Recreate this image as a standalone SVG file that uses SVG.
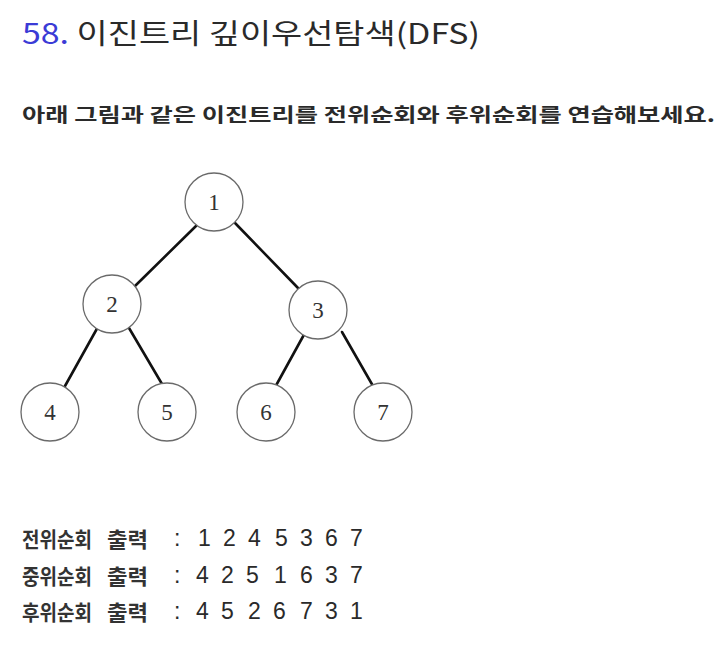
<svg xmlns="http://www.w3.org/2000/svg" width="728" height="648" viewBox="0 0 728 648">
<style>
.kr{font-family:"Noto Sans CJK KR","Noto Sans",sans-serif;fill:#2a2a2a}
.lbl{font-family:"Noto Sans CJK KR","Noto Sans",sans-serif;font-size:21px;font-weight:bold;fill:#333}
.num{font-family:"Liberation Sans","Noto Sans",sans-serif;font-size:23px;fill:#2a2a2a}
.node circle{fill:#fff;stroke:#6a6a6a;stroke-width:1.3}
.node text{font-family:"Liberation Serif","DejaVu Serif",serif;font-size:23px;fill:#333;text-anchor:middle}
.edge{stroke:#111;stroke-width:2.6;stroke-linecap:round}
</style>
<rect width="728" height="648" fill="#fff"/>
<text x="22" y="44" class="kr" font-size="28" textLength="458" lengthAdjust="spacingAndGlyphs"><tspan fill="#3b3bd6">58.</tspan> 이진트리 깊이우선탐색(DFS)</text>
<text x="22" y="122" class="kr" font-size="19" font-weight="bold" textLength="693" lengthAdjust="spacingAndGlyphs" fill="#3a3a3a">아래 그림과 같은 이진트리를 전위순회와 후위순회를 연습해보세요.</text>
<g id="connectors">
<line class="edge" x1="196" y1="226" x2="134" y2="287"/>
<line class="edge" x1="235" y1="223" x2="298" y2="288"/>
<line class="edge" x1="99" y1="325" x2="65" y2="386"/>
<line class="edge" x1="129" y1="328" x2="162" y2="384"/>
<line class="edge" x1="306" y1="331" x2="273" y2="391"/>
<line class="edge" x1="342" y1="332" x2="373" y2="386"/>
</g>
<g id="node1" class="node"><circle cx="214" cy="202" r="29"/><text x="214" y="210">1</text></g>
<g id="node2" class="node"><circle cx="112" cy="304" r="29"/><text x="112" y="312">2</text></g>
<g id="node3" class="node"><circle cx="318" cy="310" r="29"/><text x="318" y="318">3</text></g>
<g id="node4" class="node"><circle cx="50" cy="412" r="29"/><text x="50" y="420">4</text></g>
<g id="node5" class="node"><circle cx="167" cy="412" r="29"/><text x="167" y="420">5</text></g>
<g id="node6" class="node"><circle cx="266" cy="412" r="29"/><text x="266" y="420">6</text></g>
<g id="node7" class="node"><circle cx="383" cy="412" r="29"/><text x="383" y="420">7</text></g>
<text x="22" y="547" class="lbl" textLength="70" lengthAdjust="spacingAndGlyphs">전위순회</text><text x="107" y="547" class="lbl" textLength="41" lengthAdjust="spacingAndGlyphs">출력</text>
<text x="22" y="584" class="lbl" textLength="70" lengthAdjust="spacingAndGlyphs">중위순회</text><text x="107" y="584" class="lbl" textLength="41" lengthAdjust="spacingAndGlyphs">출력</text>
<text x="22" y="620" class="lbl" textLength="70" lengthAdjust="spacingAndGlyphs">후위순회</text><text x="107" y="620" class="lbl" textLength="41" lengthAdjust="spacingAndGlyphs">출력</text>
<text class="num" y="546" x="174 198 223 248 275 300 325 350">:1245367</text>
<text class="num" y="583" x="174 196 221 246 274 300 325 350">:4251637</text>
<text class="num" y="619" x="174 196 221 248 273 300 325 350">:4526731</text>
</svg>
